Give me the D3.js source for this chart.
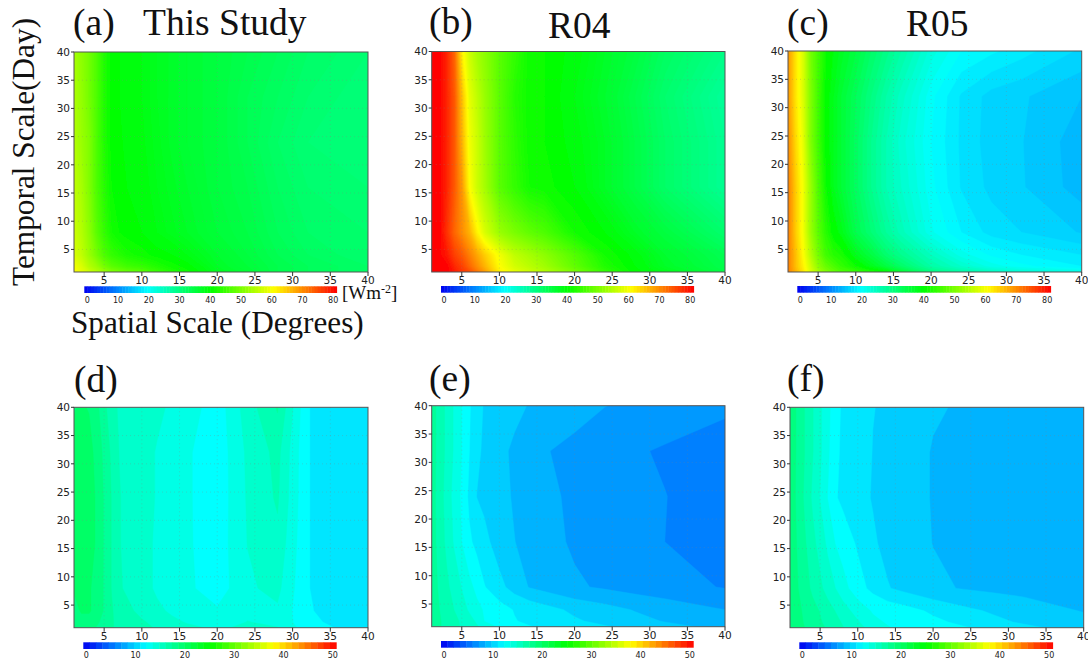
<!DOCTYPE html>
<html><head><meta charset="utf-8">
<script src="https://cdn.jsdelivr.net/npm/d3@7/dist/d3.min.js"></script>
<style>html,body{margin:0;background:#fff}svg{display:block}
.t{font-family:"Liberation Serif",serif;fill:#111}
.s{font-family:"DejaVu Sans",sans-serif;fill:#222}</style></head><body><svg id="c" width="1088" height="665"></svg>
<script>
const xLevels=[1,2,3,4,5,6,7,8,10,12,14,16,20,24,28,32,40];
const yLevels=[1,2,4,8,16,24,32,40];
const axisTicks=[5,10,15,20,25,30,35,40];
const barTop=[0,10,20,30,40,50,60,70,80];
const barBottom=[0,10,20,30,40,50];
const colorStops=["#0000f0","#0080ff","#00ffff","#00ff80","#00ff00","#80ff00","#ffff00","#ff8000","#ff0000"];
const valuesA=[
[60,58,56,54,52,50,49,48,47,44.5,42.5,41,37.5,36,34,33,32],
[59,57,54,52,49,47,46,45,44,42.5,41,40,37,35.5,34,33,32],
[57,55,52,49,46,44,43,42,41,40,39.5,38.5,36.5,35,33.5,32.5,31.5],
[56,54,51,47,44,41.5,40.5,40,39.5,38.5,37.7,37,35.5,34.5,33,32,31.5],
[55,53,50,46,43,40.5,40,39.5,39,38,37.2,36.5,35,34,32.5,31.5,31],
[54,52,50,46,42.5,40,39.7,39.2,38.7,37.7,36.8,36,35,33.5,32,31,30.5],
[53.5,51.5,49,46,42.5,40,39.5,39,38.5,37.5,36.8,36,35,33.5,32.5,31.5,30.5],
[53,51,49,46,42.5,40,39.5,39,38.5,37.5,36.8,36,35,34,33,32,31]];
const valuesB=[
[82,81,80,78,76,74,71,68,61,58,56,54,49.5,44,40,38,34.5],
[82,81,80,77,75,72,69,66,60,56.5,54.5,52.5,47.5,42.5,39.5,37,34],
[82,80,78,75,73,70,67,64,59,55,53,51,46.5,41.5,39,36.5,33.5],
[82,80,76,72,69,66,61,57,52,49.5,47.5,46,41.5,39.5,37,35,31.5],
[82,80,77,73,68,60,56,53,47,44,41.5,41,39.5,37,34.5,32,28.5],
[82,80,77,73,66,59,56,52.5,47,43.5,41,40.5,39,37,34.5,32,28.5],
[82,80,77,73,65,58,55,52,47,43,41,40.5,38.5,36.5,34,31.5,28],
[82,80,77,72,61,56,53,51,47,44,41,40.5,39,37,35,32.5,29.5]];
const valuesC=[
[70,66,62,57,53,50,48,46,44,42,40,36,30,27,25,23.5,22],
[70,65,61,56,51,48,46,44,41,38,35,32,27,24,21.5,20.3,19],
[70,65,60,54,49,45,43,42,38,35,31.5,29,25,21.5,19.8,19,18],
[70,64,59,52,47,43,40,38.5,34,31,28,25.5,21.2,19,17.6,17,15.9],
[70,64,59,52,46,41,38,36,32.5,29,26,24,20.3,17.9,16.7,16.1,14.5],
[69,63,58,50,45,40,38,36,32.5,29,26,23.5,20,17.8,16.5,16.05,14.4],
[68,62,57,50,45,40,38,36,33,30,27,24.5,20.3,17.85,16.6,16.15,15],
[68,62,57,49,45,41,39,37.5,35,32,29.5,27,22.5,20,19.2,18.4,16.8]];
const valuesD=[
[18,18.5,18.5,18,17.5,17,16.5,16.5,16,15.5,14.8,14.6,14.2,14.6,14.4,12.4,11.2],
[18.5,19,19,18.5,17.5,17,16.5,16.4,15.8,15.2,14.6,14.3,13.8,14.4,14.2,12.1,11.2],
[19,19.5,19.5,19,18,17,16.3,16,15.2,14.6,14.2,13.9,13.3,14.2,14.2,11.95,11.2],
[19.5,20,19.5,19,18,16.8,15.8,15.4,14.8,14.2,13.7,13.4,12.4,14.2,14.7,11.9,11.2],
[20,20.3,20,19.2,18,16.8,15.7,15.3,14.8,14.2,13.8,13.3,12.4,14.4,15.3,11.9,11.2],
[20,20.3,20,19.2,18,16.8,15.7,15.3,14.8,14.3,13.8,13.3,12.3,14.5,15.8,11.9,11.2],
[19.8,20,19.8,19,17.8,16.6,15.6,15.2,14.8,14.3,13.8,13.3,12.3,14.6,16,11.9,11.2],
[19.3,19.5,19.3,18.5,17.2,16.2,15.4,15.2,15,14.6,14.2,13.8,12.4,15,17,11.9,11.2]];
const valuesE=[
[17.5,17,16.5,16,15.5,15,14.5,14,12.9,12.3,11.95,11.65,11.2,10.75,10.2,9.75,9],
[17.5,17,16.5,16,15.4,14.8,14.2,13.1,12.55,11.95,11.6,11.35,10.8,10.25,9.75,9.3,8.8],
[17.5,16.9,16.3,15.6,14.9,14.2,13.5,13,12.4,11.8,11.5,11.1,10.35,9.85,9.3,8.9,8.125],
[17.5,16.7,15.9,15.1,14.3,13.5,12.75,11.95,11,10.1,9.3,8.95,8.3,7.95,7.6,7.3,6.8],
[17.5,16.4,15.3,14.2,13.1,12.1,11.5,11,10,9.4,8.95,8.55,7.95,7.6,7.25,6.875,6.3],
[17.5,16.3,15.1,13.9,12.9,11.6,10.6,10.3,9.75,9.25,8.8,8.4,7.9,7.55,7.2,6.9,6.3],
[17.5,16.4,15.3,14.2,13.1,11.9,10.9,10.4,9.7,9.15,8.7,8.2,7.8,7.45,7,6.75,6.3],
[17.5,16.4,15.3,14.2,13.1,12,11.2,10.5,10.1,9.7,9.3,9.1,8.6,8.15,7.9,7.6,7.1]];
const valuesF=[
[19,18.6,18.1,17.7,17.2,16.7,16.2,15.7,14.8,13.9,13.2,12.9,12.4,12,11.45,10.95,10],
[19,18.5,18,17.5,17,16.5,16,15.5,14.5,13.4,13,12.7,12.15,11.6,10.95,10.45,9.8],
[19,18.4,17.9,17.3,16.8,16.2,15.6,15,13.8,13,12.7,12.4,11.65,10.95,10.45,10.05,9.3],
[19,18.2,17.4,16.6,15.9,15.1,14.4,13.6,12.4,11.5,10.7,10.3,9.6,9.3,9.1,8.95,8.6],
[19,18,17,16,15.1,14.1,13.1,12.6,11.7,10.8,10.25,9.95,9.35,9.1,9,8.8,8.5],
[19,17.8,16.6,15.4,14.3,13.1,12,11.6,11,10.55,10.25,9.95,9.3,9.1,8.95,8.8,8.5],
[19,17.9,16.8,15.7,14.6,13.4,12.1,11.7,11.1,10.6,10.3,9.95,9.3,9.15,9,8.85,8.5],
[19,17.9,16.8,15.7,14.6,13.55,12.3,11.7,11.2,10.65,10.5,10.2,9.5,9.25,9.1,8.95,8.6]];
const panelValues=[valuesA,valuesB,valuesC,valuesD,valuesE,valuesF];
const boxes=[
{x0:74,x1:368,y0:52,y1:272,max:80,step:.5,off:0,bx:84.3,by:286.3,bw:252.4,lb:barTop},
{x0:431.7,x1:725,y0:51.5,y1:272,max:80,step:.5,off:0,bx:441,by:286,bw:252.7,lb:barTop},
{x0:788,x1:1081.7,y0:51,y1:272,max:80,step:1,off:0,bx:797.3,by:286,bw:253.4,lb:barTop},
{x0:74,x1:368,y0:407.3,y1:627.7,max:50,step:1.25,off:-.625,bx:83.3,by:642.3,bw:253,lb:barBottom},
{x0:431.7,x1:725,y0:405.7,y1:626.7,max:50,step:1.25,off:-.625,bx:441,by:641,bw:252.3,lb:barBottom},
{x0:790,x1:1083.7,y0:407.3,y1:627.7,max:50,step:1.25,off:-.625,bx:799.3,by:642.3,bw:253.4,lb:barBottom}];
const svg=d3.select("#c");
const defs=svg.append("defs");
defs.append("filter").attr("id","soft").attr("x","-2%").attr("y","-2%").attr("width","104%").attr("height","104%")
  .append("feGaussianBlur").attr("stdDeviation",.7);
const ramp=d3.scaleLinear().domain(colorStops.map((_,i)=>i/(colorStops.length-1))).range(colorStops).interpolate(d3.interpolateRgb);
const colorOf=(v,max)=>ramp(Math.max(0,Math.min(1,v/max)));
const xi=d3.scaleLinear().domain(d3.range(xLevels.length)).range(xLevels);
const yi=d3.scaleLinear().domain(d3.range(yLevels.length)).range(yLevels);
boxes.forEach((b,k)=>{
 const vals=panelValues[k], nx=xLevels.length, ny=yLevels.length;
 defs.append("clipPath").attr("id","cp"+k).append("rect").attr("x",b.x0).attr("y",b.y0).attr("width",b.x1-b.x0).attr("height",b.y1-b.y0);
 const g=svg.append("g").attr("clip-path","url(#cp"+k+")").append("g").attr("filter","url(#soft)");
 const xS=d3.scaleLinear().domain([1,40]).range([b.x0,b.x1]);
 const yS=d3.scaleLinear().domain([1,40]).range([b.y1,b.y0]);
 const clampI=(c,n)=>Math.max(0,Math.min(n-1,c-.5));
 const proj=d3.geoTransform({point(px,py){this.stream.point(xS(xi(clampI(px,nx))),yS(yi(clampI(py,ny))));}});
 const path=d3.geoPath(proj);
 const th=d3.range(b.off,b.max+b.step,b.step);
 const col=t=>colorOf(t+b.step/2,b.max);
 const cs=d3.contours().size([nx,ny]).thresholds(th)(vals.flat());
 g.selectAll("path").data(cs.filter(c=>c.coordinates.length)).join("path")
  .attr("d",path).attr("fill",d=>col(d.value)).attr("stroke",d=>col(d.value)).attr("stroke-width",.4);
 const gr=svg.append("g").attr("stroke","#808080").attr("stroke-opacity",.3).attr("stroke-dasharray","1,3");
 axisTicks.slice(0,-1).forEach(t=>{
  gr.append("line").attr("x1",b.x0).attr("x2",b.x1).attr("y1",yS(t)).attr("y2",yS(t));
  gr.append("line").attr("x1",xS(t)).attr("x2",xS(t)).attr("y1",b.y0).attr("y2",b.y1);
 });
 svg.append("rect").attr("x",b.x0).attr("y",b.y0).attr("width",b.x1-b.x0).attr("height",b.y1-b.y0).attr("fill","none").attr("stroke","#555").attr("stroke-width",1);
 const ay=svg.append("g");
 axisTicks.forEach(t=>{
  ay.append("line").attr("x1",b.x0-3).attr("x2",b.x0).attr("y1",yS(t)).attr("y2",yS(t)).attr("stroke","#333");
  ay.append("line").attr("x1",xS(t)).attr("x2",xS(t)).attr("y1",b.y1).attr("y2",b.y1+4).attr("stroke","#333");
  ay.append("text").attr("class","s").attr("x",b.x0-4).attr("y",yS(t)+3.8).attr("text-anchor","end").attr("font-size",10.5).text(t);
  ay.append("text").attr("class","s").attr("x",xS(t)).attr("y",b.y1+12).attr("text-anchor","middle").attr("font-size",10.5).text(t);
 });
 const bs=d3.scaleLinear().domain([0,b.max]).range([b.bx,b.bx+b.bw]);
 const bl=d3.scaleLinear().domain([0,b.max]).range([b.bx+3,b.bx+b.bw-3.5]);
 const cb=svg.append("g");
 const n=b.max===80?80:40, dv=b.max/n;
 d3.range(n).forEach(i=>cb.append("rect").attr("x",bs(i*dv)).attr("y",b.by).attr("width",bs(dv)-bs(0)+.4).attr("height",6.7).attr("fill",colorOf((i+.5)*dv,b.max)));
 const ly=b.max===80?b.by+16.5:658;
 b.lb.forEach(t=>cb.append("text").attr("class","s").attr("x",bl(t)).attr("y",ly).attr("text-anchor","middle").attr("font-size",8).attr("font-weight",500).text(t));
});
const T=(x,y,s,txt)=>svg.append("text").attr("class","t").attr("x",x).attr("y",y).attr("font-size",s).text(txt);
T(73,35,37.5,"(a)");T(143,35,37.5,"This Study");
T(429,34,37.5,"(b)");T(548,38,37.5,"R04");
T(787,35,37.5,"(c)");T(906,36,37.5,"R05");
T(74,392,37.5,"(d)");T(429,391,37.5,"(e)");T(787,391,37.5,"(f)");
svg.append("text").attr("class","t").attr("transform","translate(34,286) rotate(-90)").attr("font-size",31.3).text("Temporal Scale(Day)");
T(71,333,31.2,"Spatial Scale (Degrees)");
const wm=svg.append("text").attr("class","t").attr("x",342).attr("y",299).attr("font-size",19);
wm.append("tspan").text("[Wm");wm.append("tspan").attr("dy",-6).attr("font-size",12).text("-2");wm.append("tspan").attr("dy",6).text("]");
</script></body></html>
